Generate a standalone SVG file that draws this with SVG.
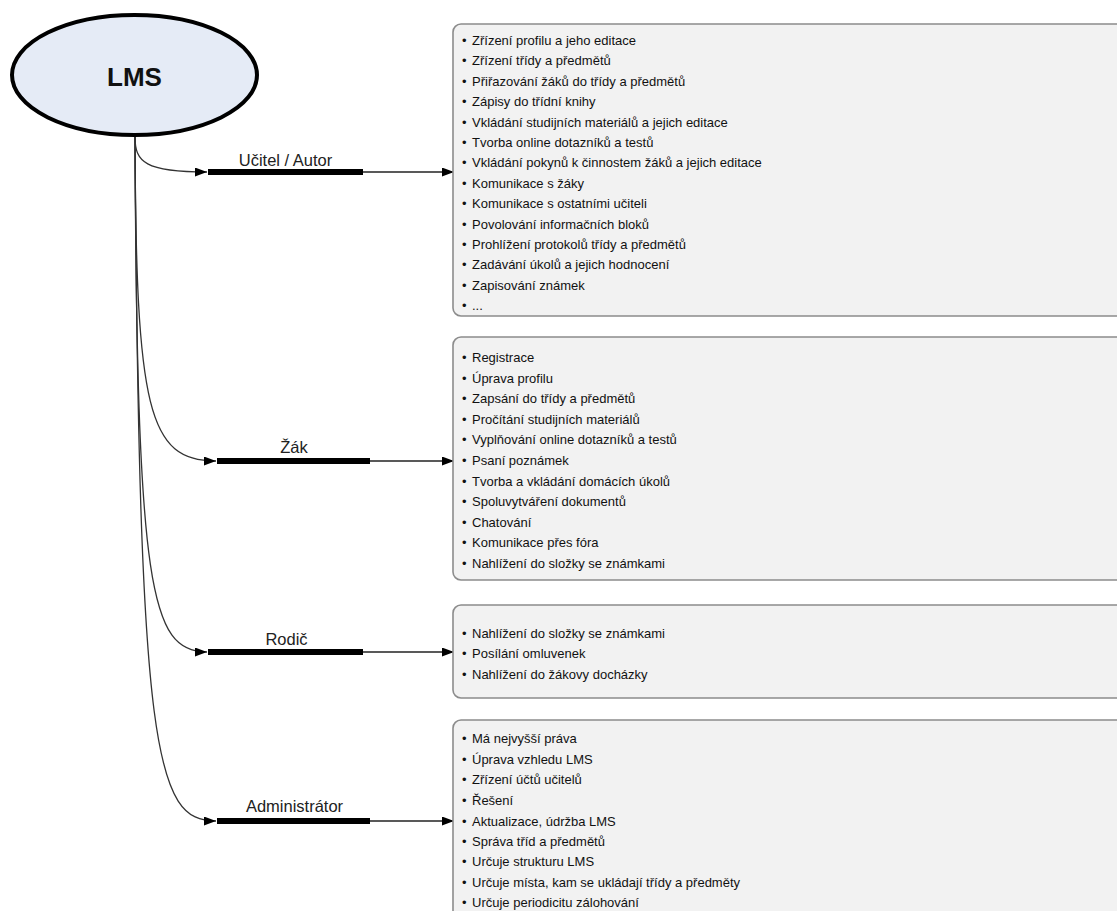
<svg xmlns="http://www.w3.org/2000/svg" width="1117" height="911" viewBox="0 0 1117 911">
<defs>
<marker id="arr" markerUnits="userSpaceOnUse" markerWidth="12" markerHeight="9" refX="12" refY="4.5" orient="auto">
<path d="M0,0 L12,4.5 L0,9 z" fill="#000"/>
</marker>
</defs>
<style>
.box{fill:#f2f2f2;stroke:#8c8c8c;stroke-width:1.6}
.t{font-family:"Liberation Sans",Arial,sans-serif;font-size:13px;fill:#111}
.lbl{font-family:"Liberation Sans",Arial,sans-serif;font-size:16.5px;fill:#222;text-anchor:middle}
.bar{stroke:#000;stroke-width:6;fill:none}
.ln{stroke:#222;stroke-width:1.3;fill:none}
.cv{stroke:#333;stroke-width:1.3;fill:none}
</style>
<rect width="1117" height="911" fill="#fff"/>
<g id="connectors">
<path class="cv" d="M135,137 C135,162 145,172 207,172" marker-end="url(#arr)"/>
<path class="cv" d="M135,137 C136,410 148,461 216,461" marker-end="url(#arr)"/>
<path class="cv" d="M135,137 C137,590 150,652 207,652" marker-end="url(#arr)"/>
<path class="cv" d="M135,137 C139,755 155,821 216,821" marker-end="url(#arr)"/>
<line class="bar" x1="208" y1="172" x2="363" y2="172"/>
<line class="bar" x1="217" y1="461" x2="370" y2="461"/>
<line class="bar" x1="208" y1="652" x2="363" y2="652"/>
<line class="bar" x1="217" y1="821" x2="370" y2="821"/>
<line class="ln" x1="363" y1="172" x2="454" y2="172" marker-end="url(#arr)"/>
<line class="ln" x1="370" y1="461" x2="454" y2="461" marker-end="url(#arr)"/>
<line class="ln" x1="363" y1="652" x2="454" y2="652" marker-end="url(#arr)"/>
<line class="ln" x1="370" y1="821" x2="454" y2="821" marker-end="url(#arr)"/>
<text class="lbl" x="285.5" y="165.5">Učitel / Autor</text>
<text class="lbl" x="294" y="452.5">Žák</text>
<text class="lbl" x="286.5" y="645">Rodič</text>
<text class="lbl" x="294.5" y="812">Administrátor</text>
</g>
<g id="lms">
<ellipse cx="134.5" cy="75" rx="122.5" ry="60" fill="#e5ebf6" stroke="#000" stroke-width="4"/>
<text x="134.5" y="86" font-family="'Liberation Sans',Arial,sans-serif" font-size="26" font-weight="bold" text-anchor="middle" fill="#111">LMS</text>
</g>
<g id="ucitel">
<rect class="box" x="453" y="24" width="690" height="292" rx="8"/>
<text class="t" y="45"><tspan x="462">•</tspan><tspan x="472">Zřízení profilu a jeho editace</tspan></text>
<text class="t" y="65.4"><tspan x="462">•</tspan><tspan x="472">Zřízení třídy a předmětů</tspan></text>
<text class="t" y="85.8"><tspan x="462">•</tspan><tspan x="472">Přiřazování žáků do třídy a předmětů</tspan></text>
<text class="t" y="106.2"><tspan x="462">•</tspan><tspan x="472">Zápisy do třídní knihy</tspan></text>
<text class="t" y="126.6"><tspan x="462">•</tspan><tspan x="472">Vkládání studijních materiálů a jejich editace</tspan></text>
<text class="t" y="147"><tspan x="462">•</tspan><tspan x="472">Tvorba online dotazníků a testů</tspan></text>
<text class="t" y="167.4"><tspan x="462">•</tspan><tspan x="472">Vkládání pokynů k činnostem žáků a jejich editace</tspan></text>
<text class="t" y="187.8"><tspan x="462">•</tspan><tspan x="472">Komunikace s žáky</tspan></text>
<text class="t" y="208.2"><tspan x="462">•</tspan><tspan x="472">Komunikace s ostatními učiteli</tspan></text>
<text class="t" y="228.6"><tspan x="462">•</tspan><tspan x="472">Povolování informačních bloků</tspan></text>
<text class="t" y="249"><tspan x="462">•</tspan><tspan x="472">Prohlížení protokolů třídy a předmětů</tspan></text>
<text class="t" y="269.4"><tspan x="462">•</tspan><tspan x="472">Zadávání úkolů a jejich hodnocení</tspan></text>
<text class="t" y="289.8"><tspan x="462">•</tspan><tspan x="472">Zapisování známek</tspan></text>
<text class="t" y="310.2"><tspan x="462">•</tspan><tspan x="472">...</tspan></text>
</g>
<g id="zak">
<rect class="box" x="453" y="337" width="690" height="243" rx="8"/>
<text class="t" y="362"><tspan x="462">•</tspan><tspan x="472">Registrace</tspan></text>
<text class="t" y="382.6"><tspan x="462">•</tspan><tspan x="472">Úprava profilu</tspan></text>
<text class="t" y="403.2"><tspan x="462">•</tspan><tspan x="472">Zapsání do třídy a předmětů</tspan></text>
<text class="t" y="423.8"><tspan x="462">•</tspan><tspan x="472">Pročítání studijních materiálů</tspan></text>
<text class="t" y="444.4"><tspan x="462">•</tspan><tspan x="472">Vyplňování online dotazníků a testů</tspan></text>
<text class="t" y="465"><tspan x="462">•</tspan><tspan x="472">Psaní poznámek</tspan></text>
<text class="t" y="485.6"><tspan x="462">•</tspan><tspan x="472">Tvorba a vkládání domácích úkolů</tspan></text>
<text class="t" y="506.2"><tspan x="462">•</tspan><tspan x="472">Spoluvytváření dokumentů</tspan></text>
<text class="t" y="526.8"><tspan x="462">•</tspan><tspan x="472">Chatování</tspan></text>
<text class="t" y="547.4"><tspan x="462">•</tspan><tspan x="472">Komunikace přes fóra</tspan></text>
<text class="t" y="568"><tspan x="462">•</tspan><tspan x="472">Nahlížení do složky se známkami</tspan></text>
</g>
<g id="rodic">
<rect class="box" x="453" y="605" width="690" height="93" rx="8"/>
<text class="t" y="638"><tspan x="462">•</tspan><tspan x="472">Nahlížení do složky se známkami</tspan></text>
<text class="t" y="658"><tspan x="462">•</tspan><tspan x="472">Posílání omluvenek</tspan></text>
<text class="t" y="678.5"><tspan x="462">•</tspan><tspan x="472">Nahlížení do žákovy docházky</tspan></text>
</g>
<g id="admin">
<rect class="box" x="453" y="720" width="690" height="240" rx="8"/>
<text class="t" y="743"><tspan x="462">•</tspan><tspan x="472">Má nejvyšší práva</tspan></text>
<text class="t" y="764.4"><tspan x="462">•</tspan><tspan x="472">Úprava vzhledu LMS</tspan></text>
<text class="t" y="784"><tspan x="462">•</tspan><tspan x="472">Zřízení účtů učitelů</tspan></text>
<text class="t" y="805"><tspan x="462">•</tspan><tspan x="472">Řešení</tspan></text>
<text class="t" y="825.8"><tspan x="462">•</tspan><tspan x="472">Aktualizace, údržba LMS</tspan></text>
<text class="t" y="845.5"><tspan x="462">•</tspan><tspan x="472">Správa tříd a předmětů</tspan></text>
<text class="t" y="866.3"><tspan x="462">•</tspan><tspan x="472">Určuje strukturu LMS</tspan></text>
<text class="t" y="887"><tspan x="462">•</tspan><tspan x="472">Určuje místa, kam se ukládají třídy a předměty</tspan></text>
<text class="t" y="907"><tspan x="462">•</tspan><tspan x="472">Určuje periodicitu zálohování</tspan></text>
</g>
</svg>
